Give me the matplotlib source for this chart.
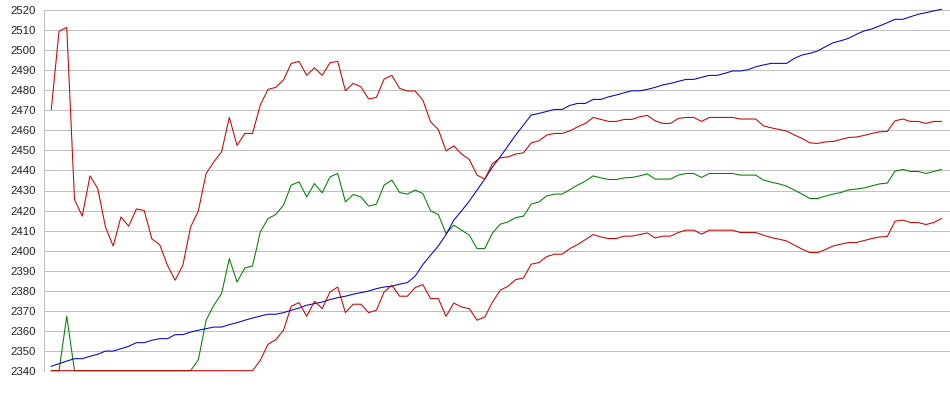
import numpy as np
import matplotlib
matplotlib.use("Agg")
import matplotlib.pyplot as plt

# ---- data ----
price = [2342.2, 2343.5, 2344.8, 2346, 2346, 2347.2, 2348.2, 2349.8, 2349.8, 2351,
         2352.2, 2354, 2354, 2355.2, 2356, 2356, 2358, 2358, 2359.3, 2360.2,
         2361, 2361.8, 2361.8, 2363, 2364, 2365.2, 2366.3, 2367.3, 2368.2, 2368.2,
         2369, 2370.2, 2371.3, 2372.7, 2373.5, 2374.3, 2375.5, 2376.5, 2377.2, 2378.2,
         2379, 2379.8, 2381, 2381.8, 2382.2, 2383.2, 2384, 2387.2, 2393, 2397.7,
         2402.3, 2408, 2415.2, 2419.8, 2424.7, 2430.2, 2435.7, 2441.8, 2446.8, 2452.3,
         2457.7, 2462.7, 2467.7, 2468.5, 2469.5, 2470.5, 2470.5, 2472.5, 2473.5, 2473.5,
         2475.5, 2475.5, 2476.8, 2477.7, 2478.8, 2479.8, 2479.8, 2480.5, 2481.5, 2482.7,
         2483.5, 2484.5, 2485.5, 2485.5, 2486.5, 2487.5, 2487.5, 2488.5, 2489.7, 2489.7,
         2490.3, 2491.8, 2492.7, 2493.5, 2493.5, 2493.5, 2496, 2497.7, 2498.5, 2499.7,
         2501.8, 2503.8, 2504.8, 2506, 2508, 2509.7, 2510.7, 2512.2, 2513.8, 2515.5,
         2515.5, 2516.8, 2518, 2518.8, 2519.7, 2520.5]

upper = [2470.5, 2509.5, 2511.5, 2425.5, 2417.2, 2437.3, 2431, 2411.8, 2402.2, 2416.8,
         2412.2, 2420.8, 2420, 2405.8, 2403, 2392.7, 2385.2, 2392.7, 2411.8, 2419.8,
         2438.5, 2444.3, 2449.3, 2466.5, 2452.5, 2458.5, 2458.5, 2472.7, 2480.5, 2481.5,
         2485.2, 2493.5, 2494.5, 2487.5, 2491.3, 2487.5, 2493.8, 2494.5, 2479.8, 2483.5,
         2481.8, 2475.7, 2476.5, 2485.7, 2487.5, 2481, 2479.7, 2479.7, 2475.2, 2464.3,
         2460.5, 2449.8, 2452.3, 2448.2, 2445.5, 2437.7, 2435.7, 2443.5, 2446.3, 2446.8,
         2448.2, 2448.8, 2453.8, 2454.8, 2457.7, 2458.5, 2458.5, 2459.8, 2461.8, 2463.5,
         2466.5, 2465.5, 2464.5, 2464.5, 2465.5, 2465.5, 2466.8, 2467.5, 2464.8, 2463.5,
         2463.5, 2466, 2466.5, 2466.5, 2464.5, 2466.5, 2466.5, 2466.5, 2466.5, 2465.7,
         2465.7, 2465.7, 2462.3, 2461.3, 2460.5, 2459.7, 2457.7, 2456, 2453.8, 2453.5,
         2454.3, 2454.5, 2455.5, 2456.5, 2456.7, 2457.5, 2458.5, 2459.3, 2459.5, 2464.8,
         2465.7, 2464.5, 2464.5, 2463.5, 2464.5, 2464.5]

middle = [2340, 2340, 2367.2, 2340, 2340, 2340, 2340, 2340, 2340, 2340,
          2340, 2340, 2340, 2340, 2340, 2340, 2340, 2340, 2340, 2345.5,
          2365.2, 2372.7, 2378.5, 2396, 2384.3, 2391.3, 2392.3, 2409.3, 2416, 2418,
          2422.7, 2432.7, 2434.3, 2426.8, 2433.5, 2428.8, 2436.8, 2438.5, 2424.3, 2428,
          2426.8, 2422.2, 2423.2, 2432.7, 2435.2, 2429, 2428.2, 2430.2, 2428.5, 2419.8,
          2418, 2408.5, 2412.7, 2410.2, 2407.7, 2401, 2401, 2408.8, 2413.2, 2414.3,
          2416.5, 2417.2, 2423.2, 2424.3, 2427.3, 2428.2, 2428.2, 2430.5, 2432.7, 2434.7,
          2437.3, 2436.3, 2435.5, 2435.5, 2436.3, 2436.5, 2437.3, 2438.3, 2435.7, 2435.7,
          2435.7, 2437.7, 2438.5, 2438.5, 2436.5, 2438.5, 2438.5, 2438.5, 2438.5, 2437.7,
          2437.7, 2437.7, 2435.2, 2434.2, 2433.3, 2432.2, 2430.2, 2428.2, 2426, 2426,
          2427.2, 2428.2, 2429, 2430.3, 2430.7, 2431.3, 2432.3, 2433.3, 2433.7, 2439.7,
          2440.5, 2439.5, 2439.5, 2438.5, 2439.5, 2440.5]

lower = [2340, 2340, 2340, 2340, 2340, 2340, 2340, 2340, 2340, 2340,
         2340, 2340, 2340, 2340, 2340, 2340, 2340, 2340, 2340, 2340,
         2340, 2340, 2340, 2340, 2340, 2340, 2340, 2345.2, 2353.2, 2355.5,
         2360.2, 2372.2, 2374, 2367.2, 2374.7, 2371, 2379.3, 2381.8, 2369, 2373.2,
         2373.2, 2369, 2370.2, 2379.3, 2382.7, 2377.2, 2377.2, 2381.5, 2383, 2376,
         2376, 2367.2, 2373.8, 2371.8, 2371, 2365.2, 2366.8, 2374.3, 2380.2, 2382.2,
         2385.5, 2386.3, 2393.2, 2394, 2397, 2398.2, 2398.2, 2401, 2403, 2405.5,
         2408, 2406.8, 2406, 2406, 2407.2, 2407.2, 2408, 2408.8, 2406.3, 2407.2,
         2407.2, 2409, 2410.2, 2410.2, 2408.2, 2410.2, 2410.2, 2410.2, 2410.2, 2409,
         2409, 2409, 2407.7, 2406.5, 2405.7, 2404.8, 2402.7, 2400.7, 2399, 2399,
         2400.5, 2402.3, 2403.2, 2404, 2404, 2405, 2406, 2406.8, 2407, 2414.7,
         2415.2, 2414, 2414, 2413, 2414, 2416]

y_ticks = list(range(2340, 2521, 10))

# ---- figure ----
W, H = 950, 395
fig = plt.figure(figsize=(W / 100, H / 100), dpi=100)
top_px, bot_px, left_px = 10.3, 370.7, 44
ax = fig.add_axes([left_px / W, (H - bot_px) / H, (W - left_px) / W, (bot_px - top_px) / H])

x = np.arange(len(price))
kw = dict(lw=0.75, antialiased=True, clip_on=False)
ax.plot(x, middle, color='#008000', zorder=3, **kw)
ax.plot(x, price, color='#0000cc', zorder=4, **kw)
ax.plot(x, upper, color='#cc0000', zorder=5, **kw)
ax.plot(x, lower, color='#cc0000', zorder=6, **kw)

ax.set_ylim(2340, 2520)
ax.set_xlim(-0.94, 116.1)
ax.set_yticks(y_ticks)
ax.set_yticklabels([str(t) for t in y_ticks])
ax.set_xticks([])
ax.grid(axis='y', color='#c0c0c0', lw=0.5, antialiased=False)
ax.set_axisbelow(True)
for s in ['top', 'right', 'bottom']:
    ax.spines[s].set_visible(False)
ax.spines['left'].set_color('#c0c0c0')
ax.spines['left'].set_linewidth(0.5)
ax.spines['left'].set_antialiased(False)
ax.tick_params(axis='y', length=0, pad=5.8, labelsize=8.2, labelcolor='#222222')
for lab in ax.get_yticklabels():
    lab.set_fontfamily('Liberation Sans')

fig.savefig('out.png', dpi=100)
